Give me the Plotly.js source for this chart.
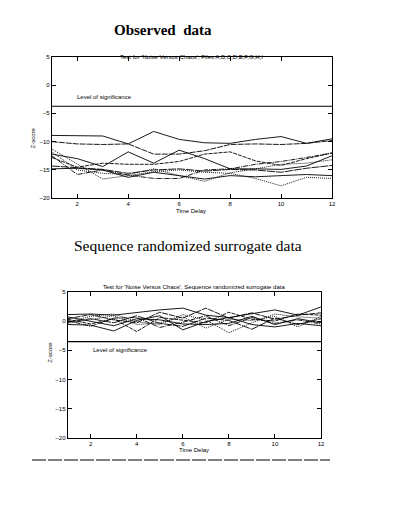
<!DOCTYPE html>
<html>
<head>
<meta charset="utf-8">
<script src="https://cdn.plot.ly/plotly-3.0.1.min.js"></script>
<style>
html,body{margin:0;padding:0;background:#fff;}
#chart{width:394px;height:510px;}
</style>
</head>
<body>
<div id="chart"></div>
<script>
// ---- data ----
const timeDelay = [1,2,3,4,5,6,7,8,9,10,11,12];
const fileNames = ["A","B","C","D","E","F","G","H","I"];

// Observed data: Z-score per file
const obsA = [-8.9,-8.9,-9.0,-10.4,-8.2,-9.6,-10.2,-10.3,-9.6,-9.1,-10.3,-9.5];
const obsB = [-10.0,-10.4,-10.5,-10.4,-12.2,-12.2,-11.6,-10.5,-10.4,-10.5,-10.3,-9.8];
const obsC = [-11.3,-14.0,-16.6,-16.0,-15.3,-15.0,-15.4,-15.6,-16.5,-17.8,-16.3,-16.5];
const obsD = [-12.2,-13.0,-14.4,-11.8,-13.8,-11.5,-13.0,-14.8,-14.8,-14.9,-14.3,-12.5];
const obsE = [-12.8,-14.5,-13.8,-14.0,-14.0,-13.5,-12.2,-11.8,-13.4,-14.2,-13.0,-12.0];
const obsF = [-14.3,-14.6,-14.9,-15.6,-15.0,-14.8,-15.2,-14.9,-15.0,-15.4,-14.7,-14.2];
const obsG = [-14.8,-14.7,-15.0,-16.3,-15.4,-16.0,-16.6,-16.0,-16.2,-16.0,-15.8,-16.0];
const obsH = [-11.8,-15.0,-15.6,-15.8,-14.8,-16.0,-17.0,-15.5,-14.8,-14.0,-13.8,-13.2];
const obsI = [-12.5,-15.8,-15.0,-15.9,-16.5,-16.5,-15.0,-14.8,-14.0,-13.5,-12.8,-12.0];

// Sequence randomized surrogate data: Z-score per file
const surA = [1.1,1.2,1.0,1.5,1.9,2.2,1.0,0.6,1.2,1.9,1.0,2.4];
const surB = [0.4,1.1,0.2,-0.3,1.5,0.5,2.2,0.5,1.4,0.3,1.0,1.4];
const surC = [-0.2,0.8,1.2,-0.1,-0.6,1.1,0.2,-2.0,-0.3,1.2,0.7,0.5];
const surD = [-0.6,-0.7,-1.7,0.1,0.9,-1.5,-0.1,0.6,-0.6,-1.0,-0.4,-0.8];
const surE = [0.3,-0.5,0.4,-1.8,0.6,0.2,-0.3,1.5,0.3,0.0,1.2,1.0];
const surF = [-0.2,0.4,-0.3,0.9,-0.4,-0.9,0.5,0.1,-1.4,0.5,-0.6,0.4];
const surG = [0.7,0.0,-0.8,0.4,0.2,-0.5,-0.6,-0.4,0.8,-0.6,0.4,-0.3];
const surH = [-0.4,0.2,0.9,-0.6,-0.3,0.7,-1.2,0.3,0.1,0.8,-1.0,0.8];
const surI = [0.1,-0.9,0.5,0.6,-1.1,-0.2,0.9,-0.8,0.6,-0.4,0.2,-0.5];

const sigLevelObs = -3.75;
const sigLevelSur = -3.5;
const sigX = [1, 12];

const obsSeries = [obsA,obsB,obsC,obsD,obsE,obsF,obsG,obsH,obsI];
const surSeries = [surA,surB,surC,surD,surE,surF,surG,surH,surI];
const dashes = ["solid","6px,1px","1px,1px","solid","4px,1px","8px,1px","solid","1px,1px","5px,1px,1px,1px"];

const traces = [];
obsSeries.forEach((s,i)=>{
  traces.push({x:timeDelay,y:s,type:'scatter',mode:'lines',name:fileNames[i],
    line:{color:'#000',width:0.9,dash:dashes[i]},xaxis:'x',yaxis:'y',hoverinfo:'skip'});
});
surSeries.forEach((s,i)=>{
  traces.push({x:timeDelay,y:s,type:'scatter',mode:'lines',name:fileNames[i],
    line:{color:'#000',width:0.9,dash:dashes[i]},xaxis:'x2',yaxis:'y2',hoverinfo:'skip'});
});
traces.push({x:sigX,y:[sigLevelObs,sigLevelObs],type:'scatter',mode:'lines',
  line:{color:'#000',width:1.2},xaxis:'x',yaxis:'y',hoverinfo:'skip'});
traces.push({x:sigX,y:[sigLevelSur,sigLevelSur],type:'scatter',mode:'lines',
  line:{color:'#000',width:1.2},xaxis:'x2',yaxis:'y2',hoverinfo:'skip'});

const tickFont = {family:'Liberation Sans, Arial, sans-serif',size:6,color:'#000'};
function xax(domain, anchor){
  return {domain:domain,anchor:anchor,range:[1,12],tick0:2,dtick:2,showgrid:false,zeroline:false,
    showline:true,mirror:'ticks',linecolor:'#000',linewidth:1,ticks:'inside',ticklen:4,
    tickcolor:'#000',tickfont:tickFont};
}
function yax(domain, anchor){
  return {domain:domain,anchor:anchor,range:[-20,5],dtick:5,showgrid:false,zeroline:false,
    showline:true,mirror:'ticks',linecolor:'#000',linewidth:1,ticks:'inside',ticklen:4,
    tickcolor:'#000',tickfont:tickFont};
}

const smallFont = {family:'Liberation Sans, Arial, sans-serif',size:6,color:'#000'};
const layout = {
  width:394,height:510,margin:{l:0,r:0,t:0,b:0},
  paper_bgcolor:'#fff',plot_bgcolor:'#fff',showlegend:false,
  xaxis:xax([0.1315,0.8426],'y'),
  yaxis:yax([0.6112,0.8888],'x'),
  xaxis2:xax([0.1718,0.8147],'y2'),
  yaxis2:yax([0.1406,0.428],'x2'),
  annotations:[
    {text:'<b>Observed  data</b>',xref:'paper',yref:'paper',x:0.414,y:0.961,showarrow:false,
     font:{family:'Liberation Serif, Times New Roman, serif',size:15,color:'#000'}},
    {text:'Sequence randomized surrogate data',xref:'paper',yref:'paper',x:0.477,y:0.518,showarrow:false,
     font:{family:'Liberation Serif, Times New Roman, serif',size:15.5,color:'#000'}},
    {text:"Test for 'Noise Versus Chaos', Files A,B,C,D,E,F,G,H,I",xref:'paper',yref:'paper',x:0.485,y:0.898,
     showarrow:false,font:smallFont},
    {text:"Test for 'Noise Versus Chaos', Sequence randomized surrogate data",xref:'paper',yref:'paper',x:0.493,y:0.437,
     showarrow:false,font:smallFont},
    {text:'Level of significance',xref:'x',yref:'y',x:1.9,y:-2.2,xanchor:'left',showarrow:false,font:smallFont},
    {text:'Level of significance',xref:'x2',yref:'y2',x:2.0,y:-4.95,xanchor:'left',showarrow:false,font:smallFont},
    {text:'Z-score',xref:'paper',yref:'paper',x:0.071,y:1-125/510,textangle:-90,showarrow:false,font:smallFont},
    {text:'Z-score',xref:'paper',yref:'paper',x:0.112,y:1-365/510,textangle:-90,showarrow:false,font:smallFont},
    {text:'Time Delay',xref:'paper',yref:'paper',x:191/394,y:1-211/510,showarrow:false,font:smallFont},
    {text:'Time Delay',xref:'paper',yref:'paper',x:194/394,y:1-454.5/510,showarrow:false,font:smallFont}
  ],
  shapes:[
    {type:'line',xref:'paper',yref:'paper',x0:32/394,x1:330/394,y0:1-460/510,y1:1-460/510,
     line:{color:'#000',width:1,dash:'14px,2px'}}
  ]
};

Plotly.newPlot('chart',traces,layout,{staticPlot:true,displayModeBar:false});
</script>
</body>
</html>
